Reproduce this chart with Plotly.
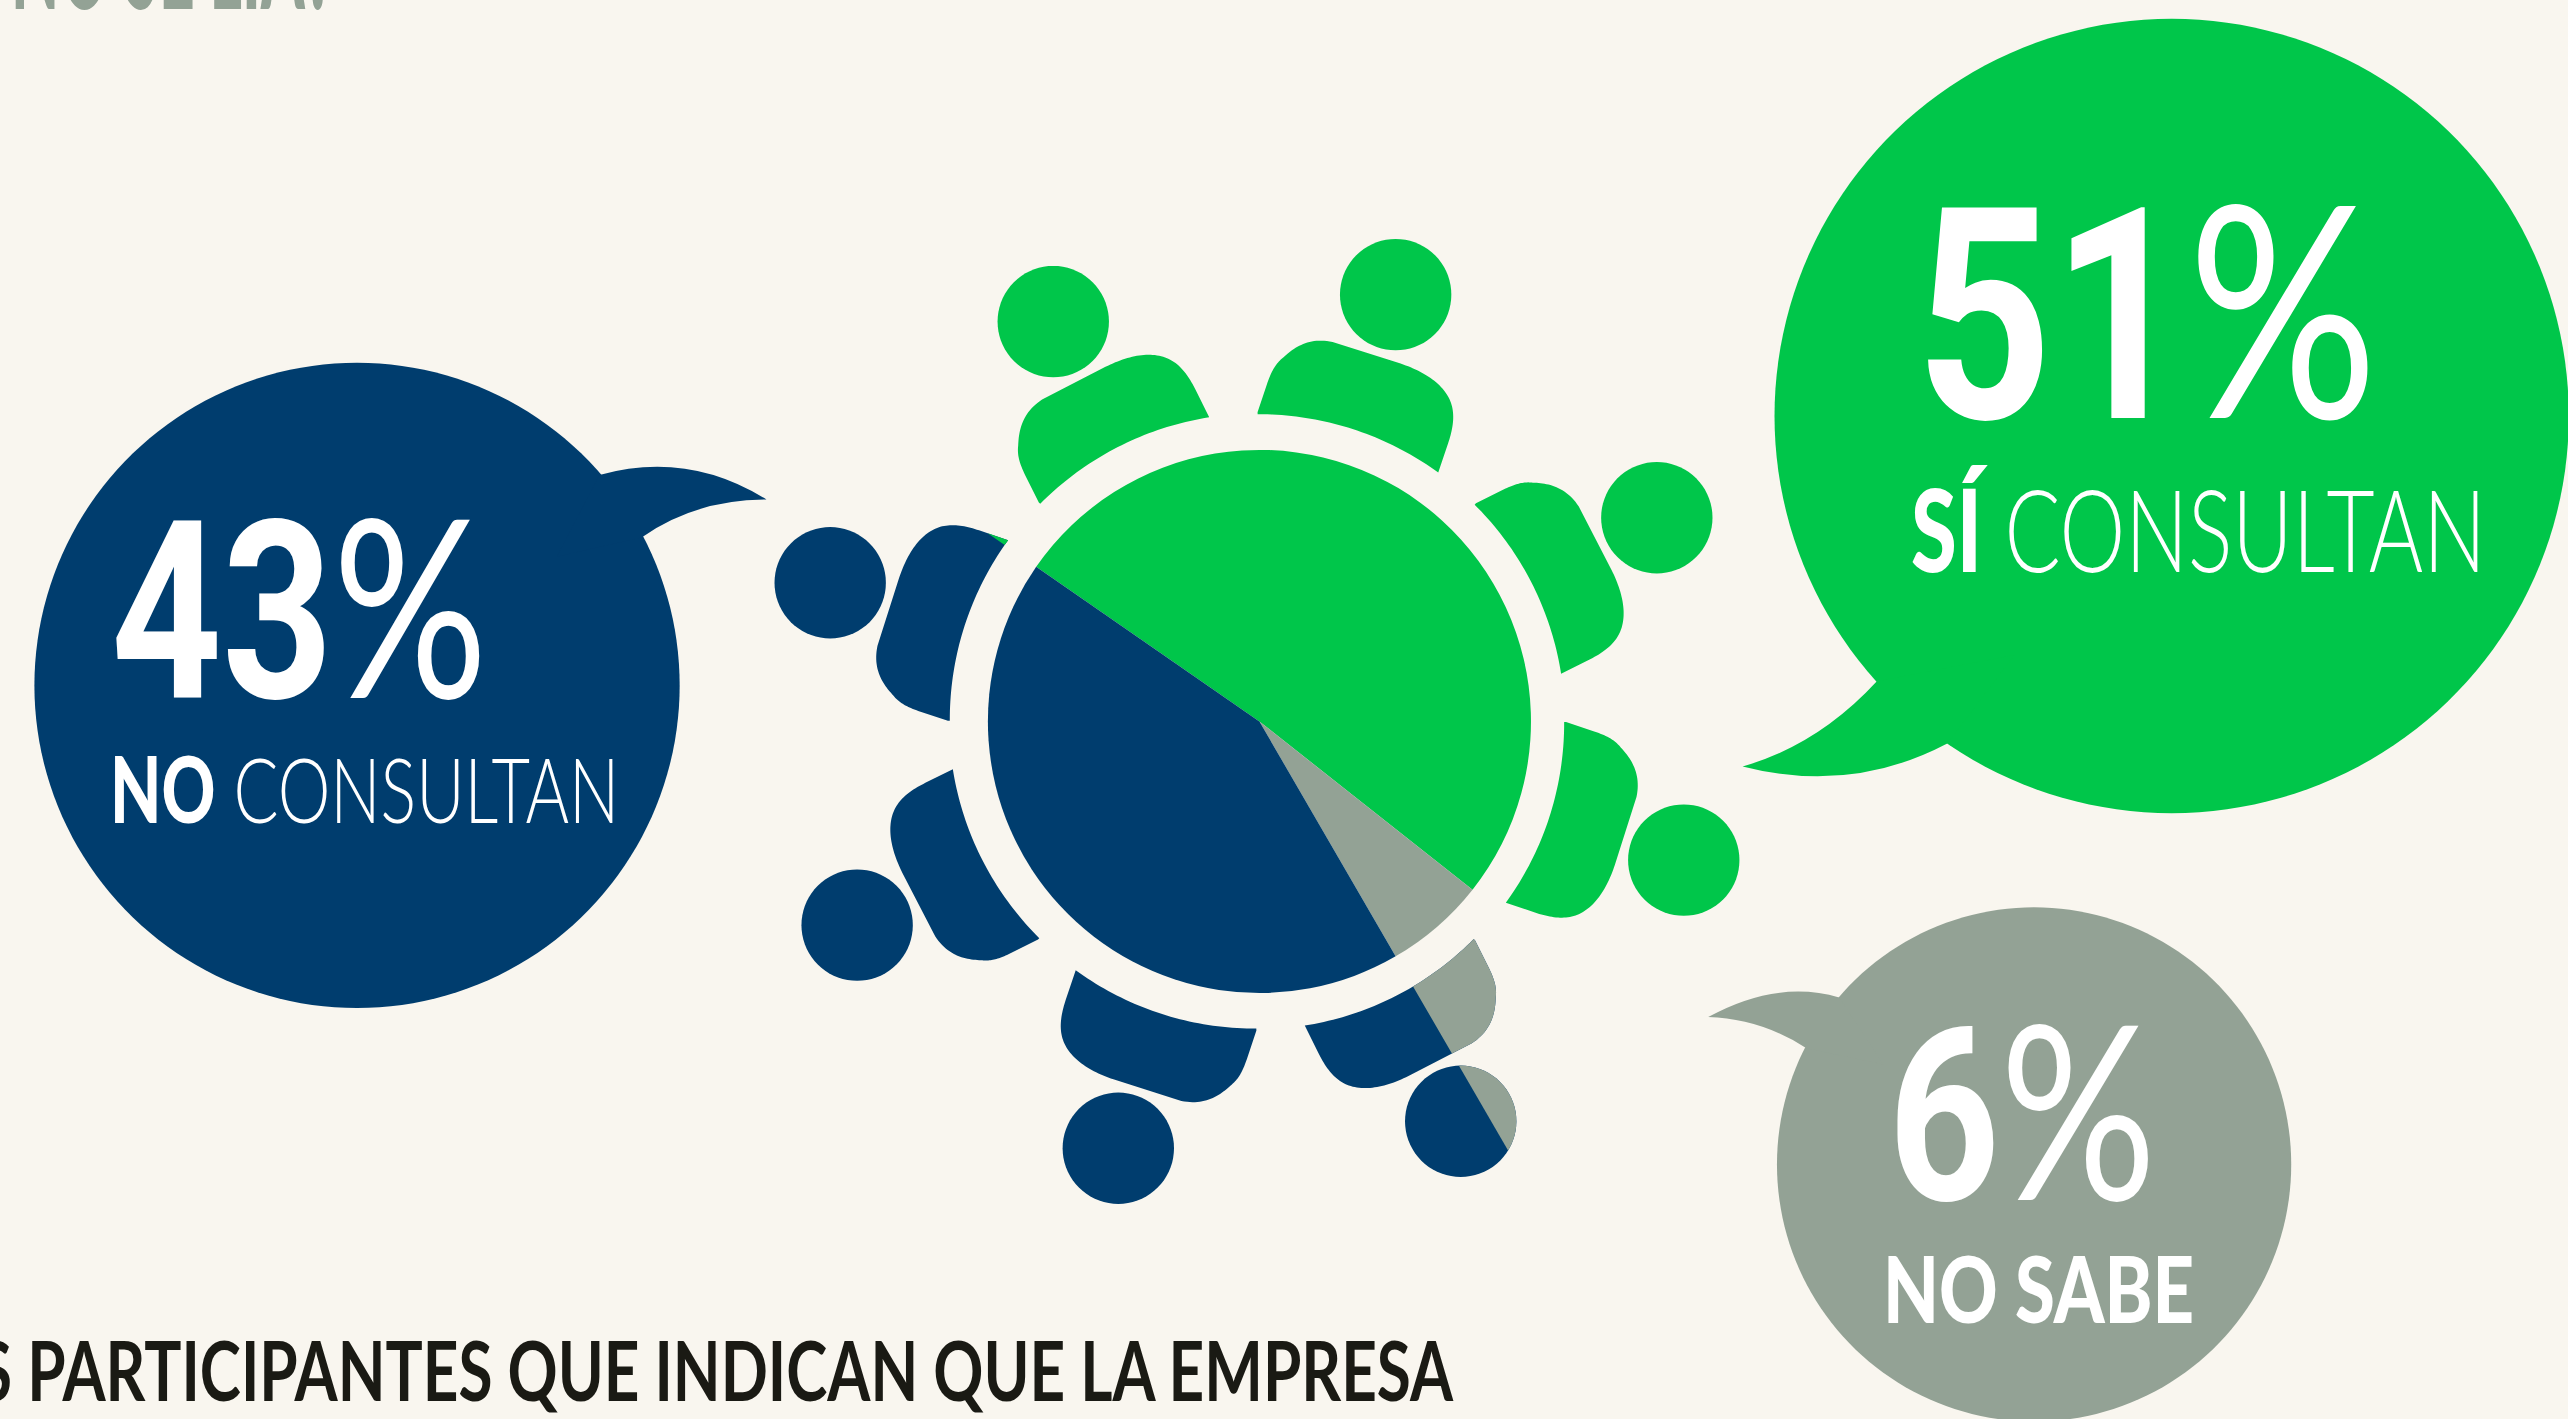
import json
import math
import plotly.graph_objects as go

# ---- data -------------------------------------------------------------
categories = ["Sí consultan", "No sabe", "No consultan"]
values = [51, 6, 43]
pct_labels = ["51%", "6%", "43%"]
GREEN, GRAY, NAVY = "#00C64A", "#93A295", "#003D6E"
colors = [GREEN, GRAY, NAVY]
BG = "#F9F6EF"
INK = "#1A1A14"
top_text = "NO SE LIA?"
bottom_text = "LOS PARTICIPANTES QUE INDICAN QUE LA EMPRESA"

# ---- geometry helpers (canvas drawn in 1568-wide units) ---------------
W, H = 2568, 1419
U = W / 1568
VW, VH = 1568, H / U
CX, CY, R = 769.0, 440.5, 165.8
PX = 767.5  # centre of the ring of people
ROT = 304.7


def bez(p0, p1, p2, p3, n=24):
    return [
        (
            (1-t)**3*p0[0] + 3*(1-t)**2*t*p1[0] + 3*(1-t)*t*t*p2[0] + t**3*p3[0],
            (1-t)**3*p0[1] + 3*(1-t)**2*t*p1[1] + 3*(1-t)*t*t*p2[1] + t**3*p3[1],
        )
        for t in [i/n for i in range(n+1)]
    ]


def body_outline():
    """Outline of the person at the upper right of the table."""
    pts = [(901.2, 307.3), (917.4, 299.2)]
    pts += bez((917.4, 299.2), (925, 295.5), (930, 294), (936, 294.7))
    pts += bez((936, 294.7), (945, 295), (956, 297), (964, 309.3))
    pts += bez((984, 348), (990, 360), (993, 372), (990.5, 382))
    pts += bez((990.5, 382), (988, 392), (980, 398), (970, 403))
    a0, a1 = math.radians(81.0), math.radians(44.8)
    for i in range(41):
        a = a0 + (a1-a0)*i/40
        pts.append((CX + 186.5*math.sin(a), CY - 186.5*math.cos(a)))
    return pts


def rot(pts, deg):
    a = math.radians(deg)
    c, s = math.cos(a), math.sin(a)
    return [(PX + (x-PX)*c - (y-CY)*s, CY + (x-PX)*s + (y-CY)*c) for x, y in pts]


def circle(cx, cy, r, n=72):
    return [(cx + r*math.cos(2*math.pi*i/n), cy + r*math.sin(2*math.pi*i/n)) for i in range(n)]


def clip(pts, ang_deg, keep_cw):
    """Keep the part of a polygon on one side of the ray through the pie centre."""
    a = math.radians(ang_deg)
    d = (math.sin(a), -math.cos(a))

    def side(p):
        v = d[0]*(p[1]-CY) - d[1]*(p[0]-CX)
        return v if keep_cw else -v
    out = []
    for i, p in enumerate(pts):
        q = pts[(i+1) % len(pts)]
        sp, sq = side(p), side(q)
        if sp >= 0:
            out.append(p)
        if sp*sq < 0:
            t = sp/(sp-sq)
            out.append((p[0]+t*(q[0]-p[0]), p[1]+t*(q[1]-p[1])))
    return out


def poly(pts, color):
    d = "M" + "L".join(f"{x:.2f},{y:.2f}" for x, y in pts) + "Z"
    return dict(type="path", path=d, fillcolor=color, line_width=0, layer="below")


shapes = []
# speech bubbles
for cx, cy, r, tail, col in [
    (1326, 254, 242.5, "M1146,416 Q1110,455 1064,468 Q1130,485 1189,454 L1230,400 Z", GREEN),
    (218, 418.5, 197, "M366,290 Q420,275 468,305 Q425,305 392,328 L340,340 Z", NAVY),
    (1242, 711, 157, "M1123,609 Q1085,598 1043,621 Q1075,622 1103,640 L1150,650 Z", GRAY),
]:
    shapes.append(poly(circle(cx, cy, r, 180), col))
    shapes.append(dict(type="path", path=tail, fillcolor=col, line_width=0, layer="below"))

# eight people around the table
person_colors = [GREEN, GREEN, GREEN, NAVY, NAVY, NAVY, NAVY, GREEN]
base_body = body_outline()
for k, col in enumerate(person_colors):
    ang = 45*k
    body = rot(base_body, ang - 45)
    hr = math.radians(18 + ang)
    head = circle(PX + 274*math.sin(hr), CY - 274*math.cos(hr), 34)
    shapes.append(poly(body, col))
    shapes.append(poly(head, col))
    if k == 3:
        shapes.append(poly(clip(body, ROT + 3.6*(values[0]+values[1]) - 360, False), GRAY))
        shapes.append(poly(clip(head, ROT + 3.6*(values[0]+values[1]) - 360, False), GRAY))
    if k == 6:
        shapes.append(poly(clip(body, ROT, True), GREEN))

fig = go.Figure()
fig.add_trace(go.Pie(
    labels=categories, values=values, sort=False, direction="clockwise", rotation=ROT,
    marker=dict(colors=colors, line=dict(width=0)), textinfo="none", hoverinfo="label+percent",
    showlegend=False,
    domain=dict(x=[(CX-R)/VW, (CX+R)/VW], y=[1-(CY+R)/VH, 1-(CY-R)/VH]),
))

FN = "Lato"
FD = "Roboto"
fit_widths = {}


def label(x, y, text, plain, size, width, color="white", anchor="left", yanchor="middle",
          weight=400, family=FN):
    fit_widths[plain] = width*U
    return dict(x=x, y=y, xref="x", yref="y", text=text, showarrow=False, xanchor=anchor,
                yanchor=yanchor, align=anchor, borderpad=0, borderwidth=0,
                font=dict(family=family, size=size, color=color, weight=weight))


def big(pct):
    return f'<b>{pct[:-1]}</b><span style="font-family:Lato">%</span>'


def heavy(s):
    return f'<span style="font-weight:900">{s}</span>'


annotations = [
    label(1170, 188, big(pct_labels[0]), pct_labels[0], 296, 282, family=FD),
    label(1167, 322, heavy("SÍ") + " CONSULTAN", "SÍ CONSULTAN", 114, 351, weight=300),
    label(68, 370, big(pct_labels[2]), pct_labels[2], 248, 230, family=FD),
    label(67, 481, heavy("NO") + " CONSULTAN", "NO CONSULTAN", 91, 311, weight=300),
    label(1153, 678, big(pct_labels[1]), pct_labels[1], 242, 164, family=FD),
    label(1150, 786, heavy("NO SABE"), "NO SABE", 91, 190),
    label(888, 835.6, f"<b>{bottom_text}</b>", bottom_text, 82, 950, INK, "right"),
    label(7, 25, heavy(top_text), top_text, 150, 197, GRAY, yanchor="bottom"),
]

fig.update_layout(
    width=W, height=H, margin=dict(l=0, r=0, t=0, b=0), showlegend=False,
    paper_bgcolor=BG, plot_bgcolor=BG,
    xaxis=dict(range=[0, VW], visible=False, fixedrange=True),
    yaxis=dict(range=[VH, 0], visible=False, fixedrange=True),
    shapes=shapes, annotations=annotations,
)
script = """
document.body.style.margin='0';document.body.style.background='%s';
var gd=document.getElementById('{plot_id}');
var fitW=%s;
function fitText(){
  gd.querySelectorAll('.annotation-text').forEach(function(t){
    var w=fitW[t.textContent];
    if(w){t.setAttribute('textLength',w);t.setAttribute('lengthAdjust','spacingAndGlyphs');}
  });
}
fitText();gd.on('plotly_afterplot',fitText);
""" % (BG, json.dumps(fit_widths, ensure_ascii=False))
fig.write_html("out.html", post_script=script, config=dict(displayModeBar=False))
